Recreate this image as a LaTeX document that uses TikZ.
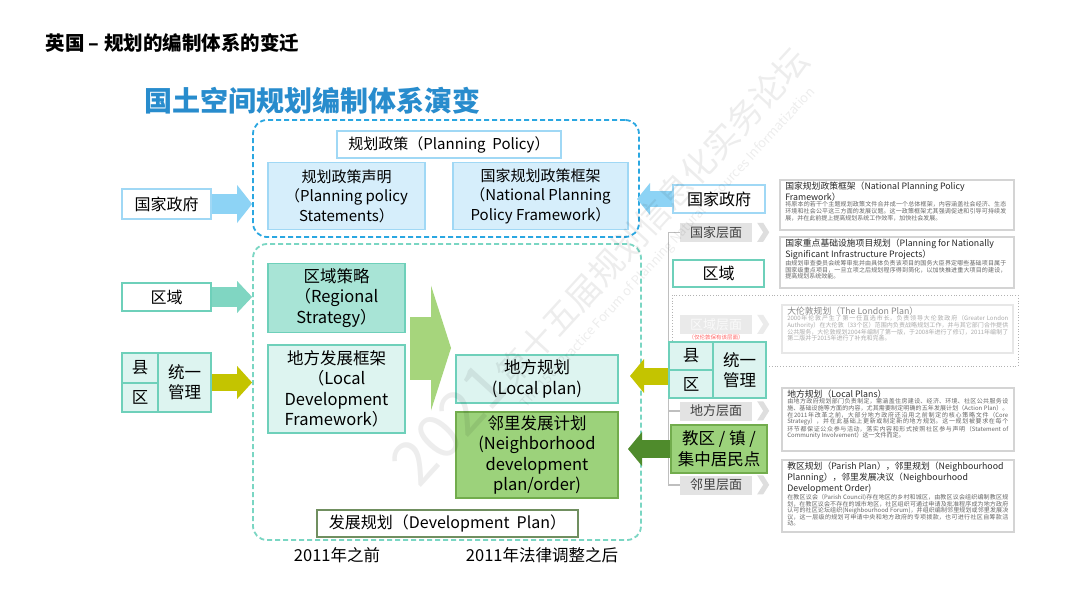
\documentclass[tikz,border=0pt]{standalone}
\usepackage{fontspec}
\setmainfont{Noto Sans CJK SC}
\XeTeXlinebreaklocale "zh"
\XeTeXlinebreakskip=0pt plus 1pt
\usetikzlibrary{arrows.meta}

\definecolor{titleblue}{RGB}{40,140,205}
\definecolor{dashblue}{RGB}{42,167,225}
\definecolor{lineblue}{RGB}{160,216,245}
\definecolor{fillblue}{RGB}{214,238,251}
\definecolor{arrowblue}{RGB}{141,211,245}
\definecolor{dashteal}{RGB}{122,214,195}
\definecolor{lineteal}{RGB}{110,208,186}
\definecolor{fillteal}{RGB}{168,228,214}
\definecolor{paleteal}{RGB}{221,244,240}
\definecolor{arrowteal}{RGB}{128,214,194}
\definecolor{oliveyellow}{RGB}{196,196,0}
\definecolor{lightgreen}{RGB}{166,213,124}
\definecolor{fillgreen}{RGB}{156,210,123}
\definecolor{linegreen}{RGB}{114,172,77}
\definecolor{darkgreen}{RGB}{79,139,44}
\definecolor{linedev}{RGB}{112,143,96}
\definecolor{levelgray}{RGB}{227,227,227}
\definecolor{infogray}{RGB}{212,212,212}

\newcommand\infotitle[1]{{\fontsize{8.8}{11}\selectfont\color{black!85}#1\par}}
\newcommand\infobody[1]{{\fontsize{6}{6.6}\selectfont\color{black!60}#1\par}}

\tikzset{
  box/.style={draw, line width=1.8pt, align=center, inner sep=0pt},
  polbox/.style={box, draw=lineblue, fill=fillblue, font=\fontsize{15}{19.5}\selectfont},
  govbox/.style={box, draw=lineblue, fill=white, font=\fontsize{16}{18}\selectfont},
  regbox/.style={box, draw=lineteal, fill=white, font=\fontsize{16}{18}\selectfont},
  tealbox/.style={box, draw=lineteal, fill=paleteal, font=\fontsize{16.5}{20.5}\selectfont},
  strongteal/.style={tealbox, fill=fillteal},
  greenbox/.style={box, draw=linegreen, fill=fillgreen, font=\fontsize{16.5}{20.5}\selectfont},
  cellbox/.style={box, draw=lineteal, fill=paleteal, font=\fontsize{16.5}{20}\selectfont},
  groupframe/.style={draw, line width=1.8pt, dash pattern=on 5pt off 3pt, rounded corners=14pt, inner sep=0pt},
  levelbox/.style={fill=levelgray, text=black!75, inner sep=0pt, minimum width=72pt, minimum height=19pt, font=\fontsize{13}{15}\selectfont},
  levelline/.style={draw=black!25, line width=1.2pt},
  chevron/.style={fill=black!13},
  infobox/.style={draw=infogray, line width=1.8pt, fill=white, inner sep=0pt},
  infotext/.style={anchor=north west, text width=221pt, align=justify, inner sep=0pt},
  eratext/.style={font=\fontsize{16.5}{20}\selectfont},
  watermark/.style={text=black, opacity=0.07, inner sep=0pt},
  fatarrow/.style n args={3}{line width=#1, line cap=butt, -{Triangle[length=#3,width=#2,line width=0pt]}},
}

\begin{document}
\begin{tikzpicture}[x=1pt,y=-1pt]
\fill[white] (0,0) rectangle (1080,608);
\useasboundingbox (0,0) rectangle (1080,608);

% titles
\node[anchor=west, font=\fontsize{19.5}{22}\selectfont\bfseries] (pageTitle) at (42,43) {英国 – 规划的编制体系的变迁};
\node[anchor=west, text=titleblue, font=\fontsize{28}{30}\selectfont\bfseries] (mainTitle) at (141,101) {国土空间规划编制体系演变};

% group frames
\node[groupframe, draw=dashblue, minimum width=386pt, minimum height=117pt] (natGroup) at (446,178.5) {};
\node[groupframe, draw=dashteal, minimum width=388pt, minimum height=296pt] (locGroup) at (447,392) {};

% national tier
\node[polbox, fill=white, minimum width=224pt, minimum height=27pt] (ppTitle) at (449,144.5) {规划政策（Planning\ \ Policy）};
\node[polbox, minimum width=157pt, minimum height=67pt] (pps) at (346.5,196) {规划政策声明\\（Planning policy\\Statements）};
\node[polbox, minimum width=175pt, minimum height=67pt] (nppf) at (540.5,196) {国家规划政策框架\\（National Planning\\Policy Framework）};
\node[govbox, minimum width=89pt, minimum height=30pt] (govL) at (166.5,204) {国家政府};
\draw[arrowblue, fatarrow={20pt}{38pt}{15pt}] (govL.east) -- (govL.east -| natGroup.west);

% regional and local tier
\node[regbox, minimum width=89pt, minimum height=28pt] (regL) at (166.5,297) {区域};
\draw[arrowteal, fatarrow={20pt}{32pt}{15pt}] (regL.east) -- (regL.east -| locGroup.west);
\node[strongteal, minimum width=137pt, minimum height=69pt] (regStrat) at (336.5,298) {区域策略\\（Regional\\Strategy）};

\node[cellbox, minimum width=36pt, minimum height=30pt] (xianL) at (140,368) {县};
\node[cellbox, minimum width=36pt, minimum height=29pt] (quL) at (140,397.5) {区};
\node[cellbox, minimum width=53pt, minimum height=59pt] (unifL) at (184.5,382.5) {统一\\管理};
\draw[oliveyellow, fatarrow={17pt}{33pt}{15pt}] (unifL.east) -- (unifL.east -| locGroup.west);
\node[tealbox, minimum width=137pt, minimum height=88pt] (ldf) at (336.5,389) {地方发展框架\\（Local\\Development\\Framework）};

\coordinate (bigFrom) at (410,348);
\coordinate (bigTo) at (451,348);
\draw[lightgreen, fatarrow={63pt}{125pt}{20pt}] (bigFrom) -- (bigTo);

\node[tealbox, minimum width=162pt, minimum height=48pt] (localPlan) at (537,379) {地方规划\\(Local plan)};
\node[greenbox, minimum width=162pt, minimum height=86pt] (nbhdPlan) at (537,455) {邻里发展计划\\(Neighborhood\\development\\plan/order)};
\node[box, draw=linedev, fill=white, font=\fontsize{16}{18}\selectfont, minimum width=261pt, minimum height=27pt] (devPlan) at (447.5,523.5) {发展规划（Development\ \ Plan）};
\node[eratext] (before) at (337,555) {2011年之前};
\node[eratext] (after) at (542,555) {2011年法律调整之后};

% right side levels
\node[levelbox] (lvNat) at (716,232.5) {国家层面};
\node[levelbox] (lvLoc) at (716,411) {地方层面};
\node[levelbox] (lvNbh) at (716,485) {邻里层面};
\draw[levelline] (lvNat.west) -- ++(-11,0) |- (lvNbh.west);
\draw[levelline] (lvLoc.west) -- ++(-11,0);
\draw[dotted, draw=black!30, line width=0.8pt] (672,295) rectangle (1018,366);
\begin{scope}[opacity=0.75]
\node[levelbox, fill=levelgray, text=white] (lvReg) at (716,324.5) {区域层面};
\node[text=red, font=\fontsize{5.5}{6}\selectfont, inner sep=0pt, opacity=0.6] (lvRegNote) at (716,337.5) {（仅伦敦保有该层面）};
\end{scope}
\foreach \lv/\op in {lvNat/1,lvReg/0.6,lvLoc/1,lvNbh/1}
  \fill[chevron, opacity=\op] ([xshift=5pt]\lv.north east) -- ++(6,0) -- ++(6,9.5) -- ++(-6,9.5) -- ++(-6,0) -- ++(6,-9.5) -- cycle;

\node[govbox, minimum width=92pt, minimum height=28pt] (govR) at (719,199) {国家政府};
\coordinate (govTip) at (637,199);
\draw[arrowblue, fatarrow={16pt}{32pt}{13pt}] (govR.west) -- (govTip);

\node[regbox, minimum width=91pt, minimum height=27pt] (regR) at (718.5,273.5) {区域};

\node[cellbox, minimum width=44pt, minimum height=28pt] (xianR) at (691,356) {县};
\node[cellbox, minimum width=44pt, minimum height=28pt] (quR) at (691,384) {区};
\node[cellbox, minimum width=53pt, minimum height=56pt] (unifR) at (739.5,370) {统一\\管理};
\coordinate (unifTip) at (630,376);
\draw[oliveyellow, fatarrow={17pt}{34pt}{14pt}] (xianR.west |- unifTip) -- (unifTip);

\node[greenbox, minimum width=96pt, minimum height=48pt, font=\fontsize{16.5}{21}\selectfont] (parish) at (719,449) {教区 / 镇 /\\集中居民点};
\coordinate (parishTip) at (628,449);
\draw[darkgreen, fatarrow={18pt}{34pt}{14pt}] (parish.west) -- (parishTip);

% info boxes
\node[infobox, minimum width=234pt, minimum height=50pt] (nppfInfo) at (897,205) {};
\node[infotext] (nppfText) at ([shift={(6,2.5)}]nppfInfo.north west) {\infotitle{国家规划政策框架（National Planning Policy\\Framework）}\infobody{将原本的若干个主题规划政策文件合并成一个总体框架，内容涵盖社会经济、生态环境和社会公平这三方面的发展议题。这一政策框架尤其强调促进和引导可持续发展，并在此前提上提高规划系统工作效率，加快社会发展。}};

\node[infobox, minimum width=234pt, minimum height=51pt] (nsipInfo) at (897,262.5) {};
\node[infotext] (nsipText) at ([shift={(6,2.5)}]nsipInfo.north west) {\infotitle{国家重点基础设施项目规划（Planning for Nationally\\Significant Infrastructure Projects）}\infobody{由规划审查委员会统筹审批并由具体负责该项目的国务大臣界定哪些基础项目属于国家级重点项目，一旦立项之后规划程序得到简化，以加快推进重大项目的建设，提高规划系统效能。}};

\begin{scope}[opacity=0.55]
\node[infobox, minimum width=231pt, minimum height=48pt] (londonInfo) at (897.5,329) {};
\node[infotext] (londonText) at ([shift={(6,2.5)}]londonInfo.north west) {\infotitle{大伦敦规划（The London Plan）}\infobody{2000年伦敦产生了第一任直选市长，负责领导大伦敦政府（Greater London Authority）在大伦敦（33个区）范围内负责战略规划工作，并与其它部门合作提供公共服务，大伦敦规划2004年编制了第一版，于2008年进行了修订，2011年编制了第二版并于2015年进行了补充和完善。}};
\end{scope}

\node[infobox, minimum width=232pt, minimum height=63pt] (localInfo) at (898,419.5) {};
\node[infotext] (localText) at ([shift={(6,2.5)}]localInfo.north west) {\infotitle{地方规划（Local Plans）}\infobody{由地方政府规划部门负责制定，需涵盖住房建设、经济、环境、社区公共服务设施、基础设施等方面的内容，尤其需要制定明确的五年发展计划（Action Plan）。在2011年改革之前，大部分地方政府还沿用之前制定的核心策略文件（Core Strategy），并在此基础上更新或制定新的地方规划。这一规划被要求在每个环节都保证公众参与活动，落实内容和形式按照社区参与声明（Statement of Community Involvement）这一文件而定。}};

\node[infobox, minimum width=232pt, minimum height=72pt] (parishInfo) at (898,496) {};
\node[infotext] (parishText) at ([shift={(6,2.5)}]parishInfo.north west) {\infotitle{教区规划（Parish Plan），邻里规划（Neighbourhood\\Planning），邻里发展决议（Neighbourhood\\Development Order)}\infobody{在教区议会（Parish Council)存在地区的乡村和城区，由教区议会组织编制教区规划，在教区议会不存在的城市地区，社区组织可通过申请及批准程序成为地方政府认可的社区论坛组织(Neighbourhood Forum)，并组织编制邻里规划或邻里发展决议，这一层级的规划可申请中央和地方政府的专项拨款，也可进行社区自筹款活动。}};

% watermark
\node[watermark, rotate=47.5, font=\fontsize{34}{36}\selectfont] (wmCn) at (600,262) {{\fontsize{62}{64}\selectfont 2021}第十五届规划信息化实务论坛};
\node[watermark, rotate=47.5, font=\fontsize{13}{15}\selectfont] (wmEn) at (668,248) {The 15th Practice Forum of Planning Natural Resources Informatization};
\end{tikzpicture}
\end{document}
